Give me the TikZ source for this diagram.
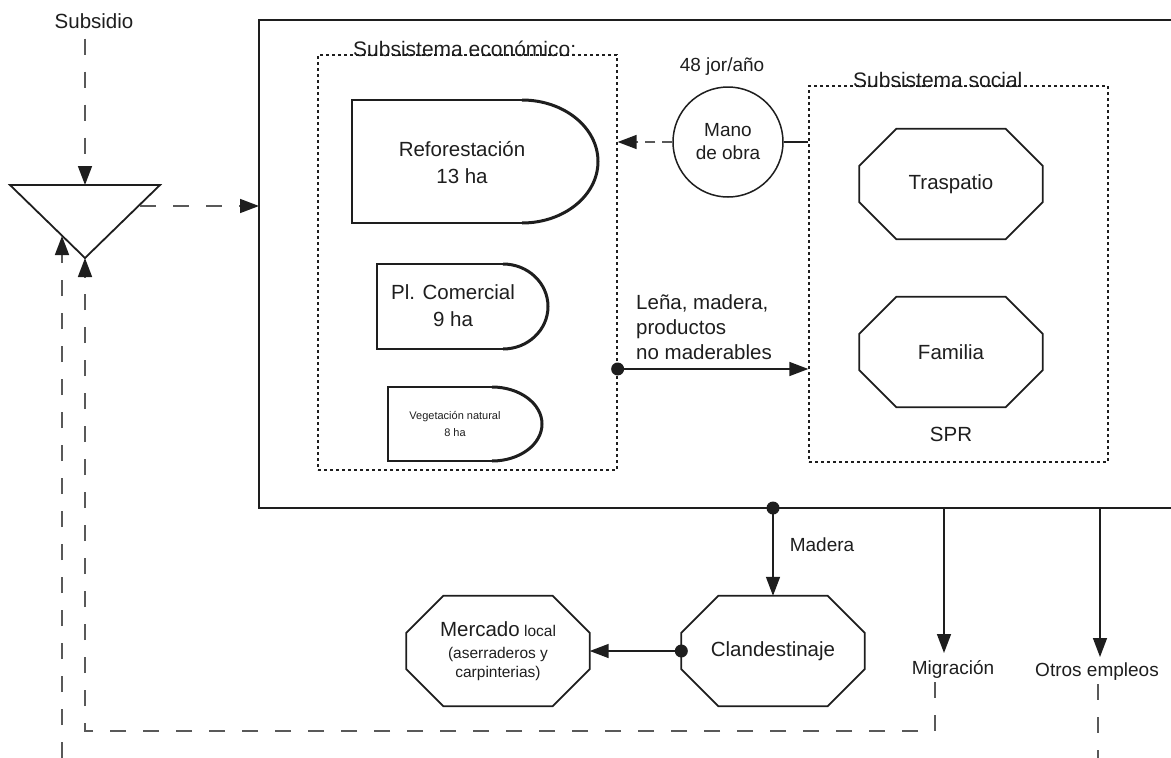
\documentclass[tikz,border=0pt]{standalone}
\usepackage{fontspec}
\setmainfont{Liberation Sans}
\usetikzlibrary{arrows.meta}
\definecolor{ink}{HTML}{1E1E1E}
\definecolor{dashc}{HTML}{595959}
\newcommand\octpath[1]{\draw[octline] ([xshift=37pt]#1.north west) -- ([xshift=-37pt]#1.north east) -- ([yshift=-37pt]#1.north east) -- ([yshift=37pt]#1.south east) -- ([xshift=-37pt]#1.south east) -- ([xshift=37pt]#1.south west) -- ([yshift=37pt]#1.south west) -- ([yshift=-37pt]#1.north west) -- cycle;}
\begin{document}
\begin{tikzpicture}[x=1pt,y=-1pt,
  every node/.style={text=ink, inner sep=0pt},
  lbl/.style={font=\fontsize{19pt}{23pt}\selectfont, align=center},
  big/.style={font=\fontsize{20.5pt}{27pt}\selectfont, align=center},
  plain/.style={draw=ink, line width=1.5pt},
  flow/.style={draw=ink, line width=1.5pt, -{Triangle[length=19pt,width=14pt]}},
  dflow/.style={draw=dashc, line width=1.6pt, dash pattern=on 16pt off 17pt, -{Triangle[length=19pt,width=14pt,color=ink]}},
  sdflow/.style={draw=dashc, line width=1.5pt, dash pattern=on 10pt off 7pt, -{Triangle[length=19pt,width=14pt,color=ink]}},
  dline/.style={draw=dashc, line width=1.6pt, dash pattern=on 16pt off 17pt},
  dotbox/.style={draw=ink, line width=1.3pt, dash pattern=on 3pt off 3pt, rectangle},
  octa/.style={rectangle, minimum width=183pt, minimum height=110pt},
  octline/.style={draw=ink, line width=1.7pt, line join=miter},
  dshape/.style={draw=ink, line width=2pt},
  dcurve/.style={draw=ink, line width=3pt}
]
\useasboundingbox (0,0) rectangle (1171,758);

% main system box (open to the right)
\coordinate (boxtl) at (259,20);
\coordinate (boxbl) at (259,508);
\draw[plain] (1171,20) -- (boxtl) -- (boxbl) -- (1171,508);

% subsidy triangle
\coordinate (trileft) at (10,185);
\coordinate (triright) at (160,185);
\coordinate (tritop) at (85,185);
\coordinate (triapex) at (85,258);
\coordinate (trileftin) at (62,236);
\coordinate (triout) at (140,206);
\draw[draw=ink, line width=1.8pt] (trileft) -- (triright) -- (triapex) -- cycle;

\node[font=\fontsize{20.5pt}{24pt}\selectfont] (subsidio) at (94,21) {Subsidio};
\draw[dflow] ([yshift=-10pt]subsidio.south -| tritop) -- (tritop);
\draw[dflow] (triout) -- (triout -| boxtl);

% economic subsystem
\node[dotbox, minimum width=299pt, minimum height=415pt] (econ) at (467.5,262.5) {};
\node[font=\fontsize{21pt}{25pt}\selectfont, anchor=base west] (econlbl) at (353,56) {Subsistema económico:};

\draw[dshape] (522,100) -- (352,100) -- (352,223) -- (522,223);
\draw[dcurve] (522,223) arc[start angle=-90,end angle=90,x radius=76pt,y radius=61.5pt];
\node[big] (refo) at (462,163) {Reforestación\\13 ha};

\draw[dshape] (503,264) -- (377,264) -- (377,349) -- (503,349);
\draw[dcurve] (503,349) arc[start angle=-90,end angle=90,x radius=45pt,y radius=42.5pt];
\node[big] (plcom) at (453,306) {Pl. Comercial\\9 ha};

\draw[dshape] (492,387) -- (388,387) -- (388,461) -- (492,461);
\draw[dcurve] (492,461) arc[start angle=-90,end angle=90,x radius=50pt,y radius=37pt];
\node[font=\fontsize{11pt}{17pt}\selectfont, align=center] (veg) at (455,424) {Vegetación natural\\8 ha};

% labour
\node[draw=ink, line width=1.5pt, circle, minimum size=110pt, lbl] (mano) at (728,142) {Mano\\de obra};
\node[lbl] (jor) at (722,67) {48 jor/año};
\draw[sdflow] (mano.west) -- (mano.west -| econ.east);

% social subsystem
\node[dotbox, minimum width=299pt, minimum height=376pt] (social) at (958.5,274) {};
\node[font=\fontsize{21pt}{25pt}\selectfont, anchor=base west] (sociallbl) at (853,87) {Subsistema social};
\draw[plain] (mano.east) -- (mano.east -| social.west);
\node[octa, big] (trasp) at (951,184) {Traspatio};
\octpath{trasp}
\node[octa, big] (fam) at (951,352) {Familia};
\octpath{fam}
\node[big] (spr) at (951,434) {SPR};

% products flow
\coordinate (lenay) at (0,369);
\coordinate (lenastart) at (econ.east |- lenay);
\fill[ink] (lenastart) circle (6.5pt);
\draw[flow] (lenastart) -- (lenastart -| social.west);
\node[font=\fontsize{20.5pt}{25pt}\selectfont, align=left, anchor=west] (lena) at (636,327) {Leña, madera,\\productos\\no maderables};

% wood / clandestine market
\coordinate (madstart) at (773,508);
\node[octa, big] (clan) at (773,651) {Clandestinaje};
\octpath{clan}
\fill[ink] (madstart) circle (6.5pt);
\draw[flow] (madstart) -- (clan.north);
\node[lbl] (madera) at (822,545) {Madera};

\node[octa, font=\fontsize{15.5pt}{19pt}\selectfont, align=center] (merc) at (498,651)
  {{\fontsize{20.5pt}{22pt}\selectfont Mercado} local\\[3pt](aserraderos y\\carpinterias)};
\octpath{merc}
\fill[ink] (clan.west) circle (6.5pt);
\draw[flow] (clan.west) -- (merc.east);

% migration and other jobs
\coordinate (migtop) at (944,508);
\coordinate (migend) at (944,653);
\node[lbl] (mig) at (953,669) {Migración};
\draw[flow] (migtop) -- (migend);

\coordinate (otrtop) at (1100,508);
\coordinate (otrend) at (1100,657);
\node[lbl] (otros) at (1097,672) {Otros empleos};
\draw[flow] (otrtop) -- (otrend);

% return dashed flows
\coordinate (migdash) at (935,682);
\coordinate (corner1) at (935,731);
\coordinate (corner2) at (85,731);
\draw[dflow] (migdash) -- (corner1) -- (corner2) -- (triapex);
\coordinate (otrdash) at (1098,684);
\coordinate (otrbottom) at (1098,758);
\draw[dline] (otrdash) -- (otrbottom);
\coordinate (leftbottom) at (62,758);
\draw[dflow] (leftbottom) -- (trileftin);
\end{tikzpicture}
\end{document}
